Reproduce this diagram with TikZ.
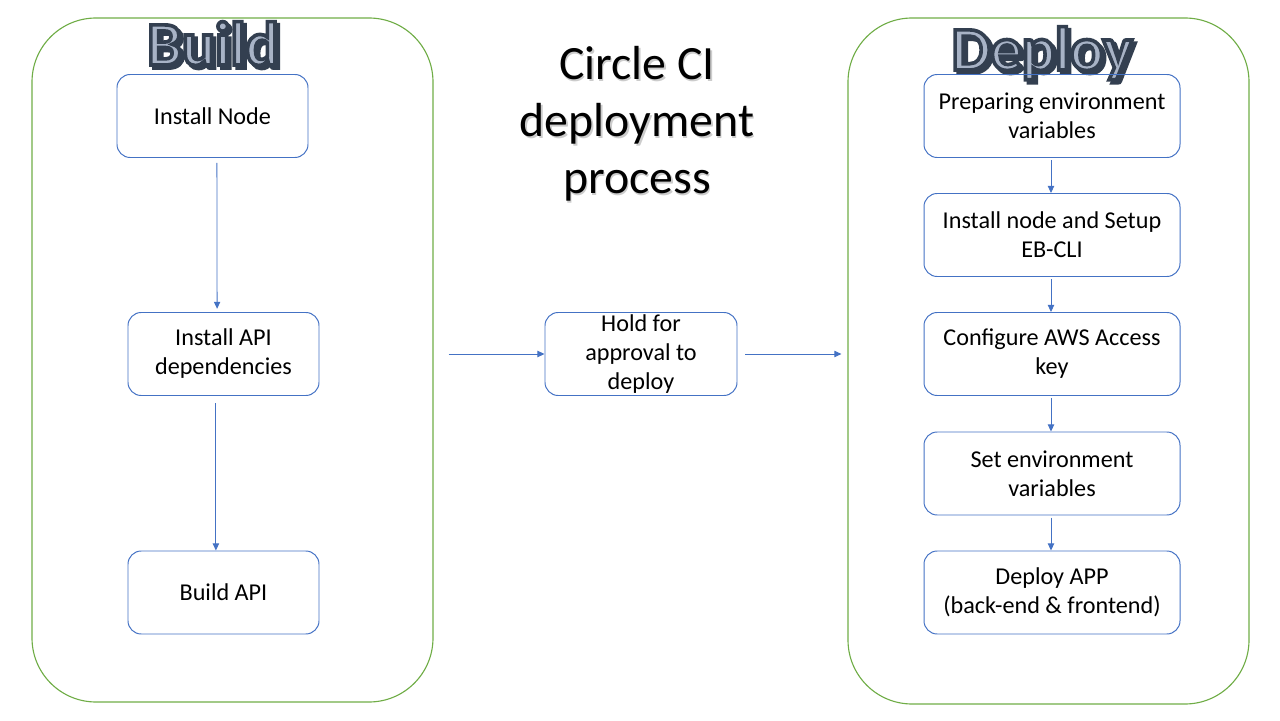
\documentclass[tikz,border=0pt]{standalone}
\usepackage{fontspec}
\setmainfont{Carlito}
\usepackage{xcolor}
\usetikzlibrary{arrows.meta,positioning}
\definecolor{ciblue}{RGB}{68,114,196}
\definecolor{cigreen}{RGB}{112,173,71}
\definecolor{cidark}{RGB}{51,63,80}
\definecolor{cilight}{RGB}{168,179,198}
\newcommand{\outlined}[1]{\special{pdf:literal direct 2 Tr 2.6 w 0.2 0.247 0.314 RG}#1\special{pdf:literal direct 0 Tr}}

\begin{document}
\begin{tikzpicture}[
    stage/.style={rectangle, draw=cigreen, line width=0.8pt, rounded corners=1.6cm, minimum width=10.025cm, minimum height=17.1cm},
    box/.style={rectangle, draw=ciblue, line width=0.7pt, rounded corners=0.33cm, minimum width=4.775cm, minimum height=2.075cm, inner sep=0pt, font=\fontsize{17.2}{20.6}\selectfont, align=center},
    dbox/.style={box, minimum width=6.4cm},
    arrow/.style={-{Triangle[length=5pt,width=4.5pt]}, ciblue, line width=0.6pt},
    headline/.style={font=\fontsize{44}{50}\selectfont\bfseries, anchor=base},
    title/.style={font=\fontsize{34}{40.5}\selectfont, align=center}
]
    \useasboundingbox (0,0) rectangle (32,18);

    % stages
    \node[stage] (build) at (5.8125,9.0) {};
    \node[stage, minimum height=17.15cm] (deploy) at (26.2125,8.975) {};

    % headlines
    \node[headline, text=cidark, xshift=2.2pt, yshift=-2.2pt] (buildshadow) at (5.325,16.375) {\outlined{Build}};
    \node[headline, text=cidark, xshift=2.2pt, yshift=-2.2pt] (deployshadow) at (26.05,16.25) {\outlined{Deploy}};
    \node[headline, text=cilight] (buildhead) at (5.325,16.375) {\outlined{Build}};
    \node[headline, text=cilight] (deployhead) at (26.05,16.25) {\outlined{Deploy}};

    % title
    \node[title, text=black!20] (titleshadow) at (15.96,14.86) {Circle CI\\deployment\\process};
    \node[title] (title) at (15.925,14.9) {Circle CI\\deployment\\process};

    % build jobs
    \node[box] (inode) at (5.3125,15.1) {Install Node};
    \node[box] (apideps) at (5.5875,9.15) {Install API\\dependencies};
    \node[box] (buildapi) at (5.5875,3.1875) {Build API};

    % approval
    \node[box, minimum width=4.8cm] (hold) at (16.025,9.15) {Hold for\\approval to\\deploy};

    % deploy jobs
    \node[dbox] (envprep) at (26.3,15.1) {Preparing environment\\variables};
    \node[dbox] (ebcli) at (26.3,12.125) {Install node and Setup\\EB-CLI};
    \node[dbox] (awskey) at (26.3,9.15) {Configure AWS Access\\key};
    \node[dbox] (envset) at (26.3,6.1625) {Set environment\\variables};
    \node[dbox] (deployapp) at (26.3,3.1875) {Deploy APP\\(back-end \& frontend)};

    \draw[arrow] ([xshift=0.11cm,yshift=-0.12cm]inode.south) -- ([xshift=-0.16cm,yshift=0.08cm]apideps.north);
    \draw[arrow] ([xshift=-0.19cm,yshift=-0.18cm]apideps.south) -- ([xshift=-0.19cm]buildapi.north);

    \draw[arrow, shorten <=0.375cm] (build.east |- hold.west) -- (hold.west);
    \draw[arrow, shorten <=0.2cm, shorten >=0.15cm] (hold.east) -- (deploy.west |- hold.east);

    \draw[arrow, shorten <=1.5pt] ([xshift=-0.025cm]envprep.south) -- ([xshift=-0.025cm]ebcli.north);
    \draw[arrow, shorten <=1.5pt] ([xshift=-0.025cm]ebcli.south) -- ([xshift=-0.025cm]awskey.north);
    \draw[arrow, shorten <=1.5pt] ([xshift=-0.025cm]awskey.south) -- ([xshift=-0.025cm]envset.north);
    \draw[arrow, shorten <=1.5pt] ([xshift=-0.025cm]envset.south) -- ([xshift=-0.025cm]deployapp.north);
\end{tikzpicture}
\end{document}
